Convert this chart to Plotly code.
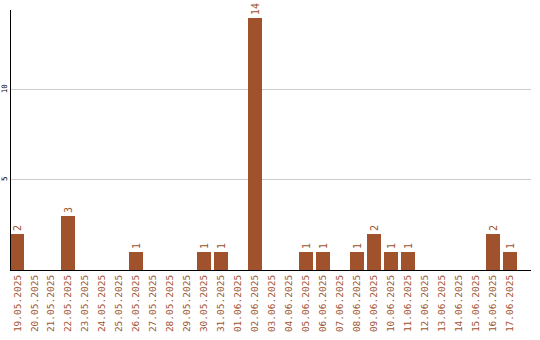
import plotly.graph_objects as go

dates = ["19.05.2025", "20.05.2025", "21.05.2025", "22.05.2025", "23.05.2025",
         "24.05.2025", "25.05.2025", "26.05.2025", "27.05.2025", "28.05.2025",
         "29.05.2025", "30.05.2025", "31.05.2025", "01.06.2025", "02.06.2025",
         "03.06.2025", "04.06.2025", "05.06.2025", "06.06.2025", "07.06.2025",
         "08.06.2025", "09.06.2025", "10.06.2025", "11.06.2025", "12.06.2025",
         "13.06.2025", "14.06.2025", "15.06.2025", "16.06.2025", "17.06.2025"]
counts = [2, 0, 0, 3, 0, 0, 0, 1, 0, 0,
          0, 1, 1, 0, 14, 0, 0, 1, 1, 0,
          1, 2, 1, 1, 0, 0, 0, 0, 2, 1]
y_ticks = [5, 10]

brown = "#A0522D"
labels = [str(v) if v else "" for v in counts]

fig = go.Figure(go.Bar(
    x=dates, y=counts, marker=dict(color=brown, line=dict(width=0)),
    width=0.82,
    text=labels, textposition="outside", textangle=-90,
    textfont=dict(family="DejaVu Sans Mono", size=10, color=brown),
    cliponaxis=False,
))

fig.update_layout(
    width=540, height=340,
    margin=dict(l=11, r=9, t=10, b=70),
    plot_bgcolor="white", paper_bgcolor="white",
    showlegend=False,
    bargap=0,
    xaxis=dict(
        type="category", range=[-0.38, 30.235],
        tickangle=-90, showgrid=False, ticks="",
        tickfont=dict(family="DejaVu Sans Mono", size=9.5, color=brown),
        showline=True, linecolor="black", linewidth=1.2,
        automargin=False,
    ),
    yaxis=dict(
        range=[0, 14.44], tickvals=y_ticks, ticks="",
        tickangle=-90,
        tickfont=dict(family="DejaVu Sans Mono", size=7.5, color="black"),
        showgrid=True, gridcolor="#cccccc", gridwidth=1,
        showline=True, linecolor="black", linewidth=1.2,
        zeroline=False, automargin=False, ticklabelstandoff=0,
    ),
)

fig.write_html("out.html")
